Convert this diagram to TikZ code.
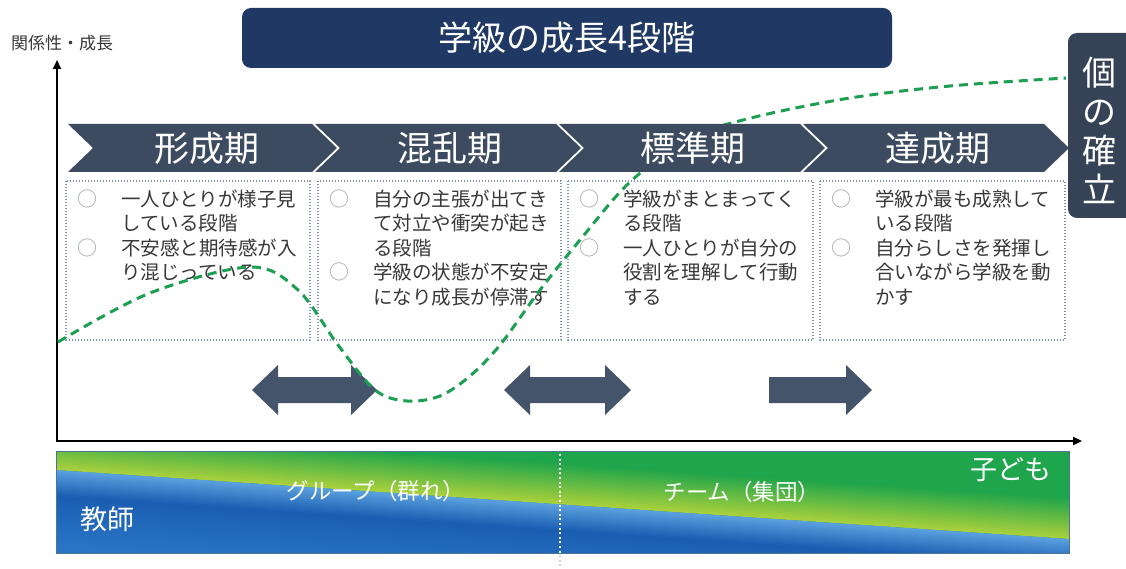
\documentclass[tikz,border=0pt]{standalone}
\usepackage{fontspec}
\setmainfont{Noto Sans CJK JP}
\usetikzlibrary{arrows.meta}
\definecolor{titlenavy}{HTML}{203864}
\definecolor{chevcol}{HTML}{3D4B60}
\definecolor{sidecol}{HTML}{364356}
\definecolor{arrowcol}{HTML}{44546A}
\definecolor{boxline}{HTML}{8090B4}
\definecolor{txtcol}{HTML}{383838}
\definecolor{bulletcol}{HTML}{A0A4A8}
\definecolor{curvecol}{HTML}{1E9E52}
\definecolor{bandlime}{HTML}{A8D03C}
\definecolor{bandgreen}{HTML}{1FA54B}
\definecolor{blight}{HTML}{5A9FDE}
\definecolor{bdark}{HTML}{1A5EB2}
\definecolor{bmid}{HTML}{2A74C4}
\definecolor{bandedge}{HTML}{4F7396}
\newcommand{\bl}{\smash{\hbox{\color{bulletcol}\fontsize{20}{24.5}\selectfont ○}}}
\tikzset{
  chev/.style={fill=chevcol},
  chevlabel/.style={text=white, font=\fontsize{35}{40}\selectfont, inner sep=0},
  descbox/.style={draw=boxline, line width=1.4pt, dash pattern=on 1.4pt off 1.6pt},
  desctext/.style={anchor=north west, inner sep=0, text=txtcol, font=\fontsize{19.5}{24.5}\selectfont},
  blockarrow/.style={fill=arrowcol},
  growth/.style={draw=curvecol, line width=3pt, dash pattern=on 9pt off 6pt},
  axis/.style={draw=black, line width=2.2pt, -{Triangle[length=9pt,width=8pt]}},
  bandtext/.style={text=white, inner sep=0},
}
\begin{document}
\begin{tikzpicture}[x=1pt,y=-1pt]
\useasboundingbox (0,0) rectangle (1126,569);
\clip (0,0) rectangle (1126,569);
\fill[white] (0,0) rectangle (1126,569);

% title
\fill[titlenavy, rounded corners=9pt] (242,8) rectangle (892,68);
\node[text=white, font=\fontsize{34}{38}\selectfont, inner sep=0] (title) at (567,38) {学級の成長4段階};

% y-axis label
\node[text=txtcol, font=\fontsize{17}{20}\selectfont, inner sep=0] (ylabel) at (62,43) {関係性・成長};

% band
\begin{scope}
\clip (56,451) rectangle (1069,553);
\fill[bandgreen] (56,451) rectangle (1069,553);
\foreach \d in {0,2,...,100}{
  \pgfmathtruncatemacro\p{min(100,\d*100/40)}
  \fill[bandgreen!\p!bandlime] (56,470-\d) -- (1069,539-\d) -- (1069,536.4-\d) -- (56,467.4-\d) -- cycle;
}
\foreach \d in {0,2,...,100}{
  \pgfmathtruncatemacro\pa{min(100,\d*4)}
  \pgfmathtruncatemacro\pc{100-min(100,max(0,(\d-25)*2))}
  \fill[bdark!\pa!blight!\pc!bmid] (56,470+\d) -- (1069,539+\d) -- (1069,541.6+\d) -- (56,472.6+\d) -- cycle;
}
\end{scope}
\draw[bandedge, line width=0.6pt] (56,451) rectangle (1069,553);
\draw[white, line width=1.6pt, dash pattern=on 2pt off 2.6pt] (560,454) -- (560,553);
\draw[gray!35, line width=1.6pt, dash pattern=on 2pt off 2.6pt] (560,555) -- (560,569);
\node[bandtext, font=\fontsize{22.5}{24}\selectfont] (group) at (376,491) {グループ（群れ）};
\node[bandtext, font=\fontsize{22.5}{24}\selectfont] (team) at (742,492) {チーム（集団）};
\node[bandtext, font=\fontsize{27}{30}\selectfont] (kodomo) at (1011,470) {子ども};
\node[bandtext, font=\fontsize{27}{30}\selectfont] (kyoshi) at (107,519) {教師};

% description boxes
\draw[descbox] (66,181) rectangle (310,340);
\draw[descbox] (318,181) rectangle (561,340);
\draw[descbox] (568,181) rectangle (813,340);
\draw[descbox] (820,181) rectangle (1065,340);
\node[desctext] (d1) at (77,189) {\begin{tabular}{@{}p{44pt}@{}l@{}}\bl & 一人ひとりが様子見\\ & している段階\\ \bl & 不安感と期待感が入\\ & り混じっている\end{tabular}};
\node[desctext] (d2) at (329,189) {\begin{tabular}{@{}p{44pt}@{}l@{}}\bl & 自分の主張が出てき\\ & て対立や衝突が起き\\ & る段階\\ \bl & 学級の状態が不安定\\ & になり成長が停滞す\end{tabular}};
\node[desctext] (d3) at (579,189) {\begin{tabular}{@{}p{44pt}@{}l@{}}\bl & 学級がまとまってく\\ & る段階\\ \bl & 一人ひとりが自分の\\ & 役割を理解して行動\\ & する\end{tabular}};
\node[desctext] (d4) at (831,189) {\begin{tabular}{@{}p{44pt}@{}l@{}}\bl & 学級が最も成熟して\\ & いる段階\\ \bl & 自分らしさを発揮し\\ & 合いながら学級を動\\ & かす\end{tabular}};

% block arrows
\fill[blockarrow] (252,390) -- (278,365) -- (278,377) -- (351,377) -- (351,365) -- (377,390) -- (351,415) -- (351,403) -- (278,403) -- (278,415) -- cycle;
\fill[blockarrow] (504,390) -- (530,365) -- (530,377) -- (605,377) -- (605,365) -- (631,390) -- (605,415) -- (605,403) -- (530,403) -- (530,415) -- cycle;
\fill[blockarrow] (769,377) -- (846,377) -- (846,365) -- (872,390) -- (846,415) -- (846,403) -- (769,403) -- cycle;

% axes
\coordinate (origin) at (57,441);
\coordinate (ytip) at (57,60);
\coordinate (xtip) at (1082,441);
\draw[axis] (57,442.1) -- (ytip);
\draw[axis] (origin) -- (xtip);

% growth curve
\draw[growth] plot[smooth, tension=0.55] coordinates {(58,342) (150,293) (250,267) (298,290) (338,345) (375,390) (407,401) (440,396) (470,376) (500,345) (540,290) (580,240) (630,182) (690,138) (755,117) (850,98) (950,86) (1066,78)};

% chevrons
\fill[chev] (68,124) -- (312,124) -- (337,148) -- (312,172) -- (68,172) -- (93,148) -- cycle;
\fill[chev] (315,124) -- (556,124) -- (581,148) -- (556,172) -- (315,172) -- (340,148) -- cycle;
\fill[chev] (559,124) -- (800,124) -- (825,148) -- (800,172) -- (559,172) -- (584,148) -- cycle;
\fill[chev] (803,124) -- (1044,124) -- (1069,148) -- (1044,172) -- (803,172) -- (828,148) -- cycle;
\node[chevlabel] (p1) at (207,148) {形成期};
\node[chevlabel] (p2) at (450,148) {混乱期};
\node[chevlabel] (p3) at (693,148) {標準期};
\node[chevlabel] (p4) at (938,148) {達成期};

% side box
\fill[sidecol, rounded corners=9pt] (1068,33) rectangle (1140,218);
\node[text=white, font=\fontsize{34}{39}\selectfont, align=center, inner sep=0] (kaku) at (1099,130) {個\\の\\確\\立};
\end{tikzpicture}
\end{document}
